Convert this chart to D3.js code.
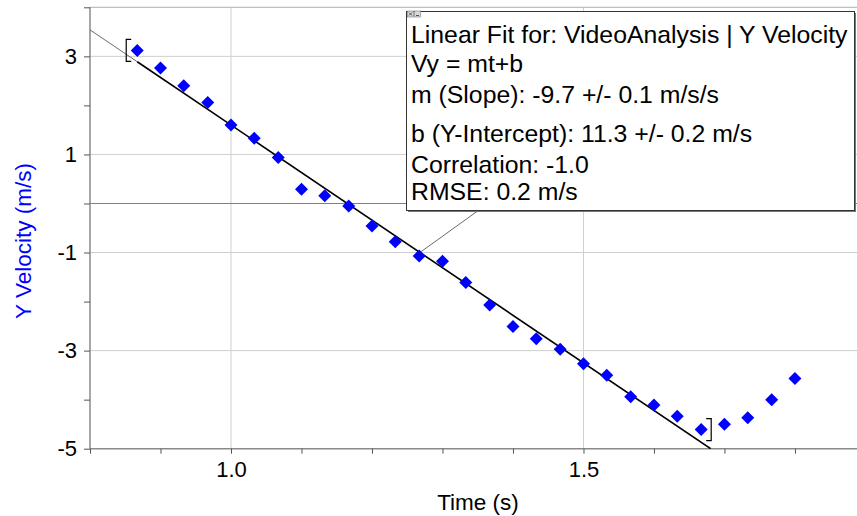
<meta charset="utf-8">
<html lang="en">
<head>
    <meta charset="utf-8">
    <style>
        body { margin: 0; background: #fff; }
        text { font-family: "Liberation Sans", Arial, sans-serif; }
    </style>
</head>
<body>
    <div id="my_dataviz"></div>
    <script src="https://d3js.org/d3.v7.min.js"></script>
    <script>
        // data (video frames at 30 fps)
        var times = [0.867, 0.900, 0.933, 0.967, 1.000, 1.033, 1.067, 1.100, 1.133, 1.167,
                     1.200, 1.233, 1.267, 1.300, 1.333, 1.367, 1.400, 1.433, 1.467, 1.500,
                     1.533, 1.567, 1.600, 1.633, 1.667, 1.700, 1.733, 1.767, 1.800];
        var yVelocity = [3.12, 2.76, 2.40, 2.06, 1.60, 1.33, 0.94, 0.29, 0.16, -0.05,
                         -0.46, -0.78, -1.07, -1.18, -1.61, -2.07, -2.51, -2.76, -2.97, -3.27,
                         -3.50, -3.94, -4.11, -4.34, -4.61, -4.50, -4.37, -4.00, -3.57];

        // linear fit
        var slope = -9.7, intercept = 11.3;
        var fitRange = [0.867, 1.667];
        var fitLines = [
            "Linear Fit for: VideoAnalysis | Y Velocity",
            "Vy = mt+b",
            "m (Slope): -9.7 +/- 0.1 m/s/s",
            "b (Y-Intercept): 11.3 +/- 0.2 m/s",
            "Correlation: -1.0",
            "RMSE: 0.2 m/s"
        ];

        // ticks
        var xTicks = [0.8, 0.9, 1.0, 1.1, 1.2, 1.3, 1.4, 1.5, 1.6, 1.7, 1.8];
        var xLabels = [1.0, 1.5];
        var yTicks = [4, 3, 2, 1, 0, -1, -2, -3, -4, -5];
        var yLabels = [3, 1, -1, -3, -5];

        var W = 857, H = 516;
        var svg = d3.select("#my_dataviz").append("svg")
            .attr("width", W).attr("height", H);

        var x = d3.scaleLinear().domain([0.8, 1.888]).range([90, 857]);
        var y = d3.scaleLinear().domain([4, -5]).range([7.3, 448.7]);

        svg.append("clipPath").attr("id", "plotclip")
            .append("rect").attr("x", 90).attr("y", 7).attr("width", 767).attr("height", 442);

        // grid
        svg.selectAll(".vgrid").data(xLabels).enter().append("line")
            .attr("x1", d => x(d)).attr("x2", d => x(d))
            .attr("y1", y(4)).attr("y2", y(-5))
            .attr("stroke", "#cfcfcf").attr("stroke-width", 1);
        svg.selectAll(".hgrid").data([3, 1, -1, -3]).enter().append("line")
            .attr("x1", x(0.8)).attr("x2", W)
            .attr("y1", d => y(d)).attr("y2", d => y(d))
            .attr("stroke", "#cfcfcf").attr("stroke-width", 1);
        // top border
        svg.append("line")
            .attr("x1", x(0.8)).attr("x2", W).attr("y1", y(4)).attr("y2", y(4))
            .attr("stroke", "#b0b0b0");
        // zero line
        svg.append("line")
            .attr("x1", x(0.8)).attr("x2", W).attr("y1", y(0)).attr("y2", y(0))
            .attr("stroke", "#808080").attr("stroke-width", 1.2);

        // axes
        var yAxis = d3.axisLeft(y).tickValues(yTicks).tickSize(6).tickPadding(7)
            .tickFormat(d => yLabels.indexOf(d) >= 0 ? d : "");
        var gy = svg.append("g").attr("transform", "translate(" + x(0.8) + ",0)").call(yAxis);
        var xAxis = d3.axisBottom(x).tickValues(xTicks).tickSize(5).tickPadding(8)
            .tickFormat(d => xLabels.some(v => Math.abs(v - d) < 1e-9) ? d3.format(".1f")(d) : "");
        var gx = svg.append("g").attr("transform", "translate(0," + y(-5) + ")").call(xAxis);
        [gx, gy].forEach(function (g) {
            g.select(".domain").attr("stroke", "#8a8a8a").attr("stroke-width", 1.5);
            g.selectAll(".tick line").attr("stroke", "#555");
            g.selectAll(".tick text").attr("fill", "#000")
                .style("font-size", "22px").style("font-family", "'Liberation Sans', Arial, sans-serif");
        });
        gy.select(".domain").attr("d", "M0," + y(4) + "V" + y(-5));
        gx.select(".domain").attr("d", "M" + x(0.8) + ",0H" + W);

        // fit line
        var lineG = svg.append("g").attr("clip-path", "url(#plotclip)");
        var fitEnd = (-5 - intercept) / slope;
        lineG.append("line")
            .attr("x1", x(0.8)).attr("y1", y(slope * 0.8 + intercept))
            .attr("x2", x(fitRange[0])).attr("y2", y(slope * fitRange[0] + intercept))
            .attr("stroke", "#444").attr("stroke-width", 0.8);
        lineG.append("line")
            .attr("x1", x(fitRange[0])).attr("y1", y(slope * fitRange[0] + intercept))
            .attr("x2", x(fitEnd)).attr("y2", y(-5))
            .attr("stroke", "#000").attr("stroke-width", 1.6);

        // brackets at the fit range
        var y0 = y(yVelocity[0]), yN = y(yVelocity[times.indexOf(fitRange[1])]);
        var bx0 = x(fitRange[0]) - 11, bx1 = x(fitRange[1]) + 10;
        svg.append("path")
            .attr("d", "M" + (bx0 + 5) + "," + (y0 - 11) + "H" + bx0 + "V" + (y0 + 11) + "H" + (bx0 + 5))
            .attr("fill", "none").attr("stroke", "#000").attr("stroke-width", 1.2);
        svg.append("path")
            .attr("d", "M" + (bx1 - 5) + "," + (yN - 11) + "H" + bx1 + "V" + (yN + 11) + "H" + (bx1 - 5))
            .attr("fill", "none").attr("stroke", "#000").attr("stroke-width", 1.2);

        // points
        var diamond = "M0,-6.5L6.5,0L0,6.5L-6.5,0Z";
        svg.selectAll(".pt").data(times).enter().append("path")
            .attr("d", diamond)
            .attr("transform", (d, i) => "translate(" + x(d) + "," + y(yVelocity[i]) + ")")
            .attr("fill", "#0000ff");

        // annotation leader
        var tAnchor = 1.268;
        svg.append("line")
            .attr("x1", x(tAnchor)).attr("y1", y(slope * tAnchor + intercept))
            .attr("x2", 479).attr("y2", 210)
            .attr("stroke", "#444").attr("stroke-width", 0.8);

        // annotation box
        var bx = 406.5, by = 11.5, bw = 448, bh = 199;
        svg.append("rect").attr("x", bx + 1.5).attr("y", by + 1.5).attr("width", bw).attr("height", bh)
            .attr("fill", "#777");
        svg.append("rect").attr("x", bx).attr("y", by).attr("width", bw).attr("height", bh)
            .attr("fill", "#fff").attr("stroke", "#333").attr("stroke-width", 1);
        // small close / minimise icons
        [0, 7].forEach(function (dx) {
            svg.append("rect").attr("x", bx + 1 + dx).attr("y", by - 0.5).attr("width", 6).attr("height", 6)
                .attr("fill", "#d8d8d8").attr("stroke", "#777").attr("stroke-width", 0.6);
        });
        svg.append("path").attr("d", "M" + (bx + 2.5) + "," + (by + 1) + "l3,3m0,-3l-3,3")
            .attr("stroke", "#333").attr("stroke-width", 0.8);
        svg.append("path").attr("d", "M" + (bx + 9.5) + "," + (by + 4) + "h3")
            .attr("stroke", "#333").attr("stroke-width", 0.8);

        var baselines = [43, 72, 103, 142, 173, 200];
        svg.selectAll(".fit").data(fitLines).enter().append("text")
            .attr("x", 411).attr("y", (d, i) => baselines[i])
            .style("font-size", "24.8px").attr("fill", "#000")
            .text(d => d);

        // axis titles
        svg.append("text")
            .attr("transform", "translate(31,241) rotate(-90)")
            .attr("text-anchor", "middle")
            .style("font-size", "22.5px").attr("fill", "#0000ff")
            .text("Y Velocity (m/s)");
        svg.append("text")
            .attr("x", 478).attr("y", 510)
            .attr("text-anchor", "middle")
            .style("font-size", "22.5px").attr("fill", "#000")
            .text("Time (s)");
    </script>
</body>
</html>
